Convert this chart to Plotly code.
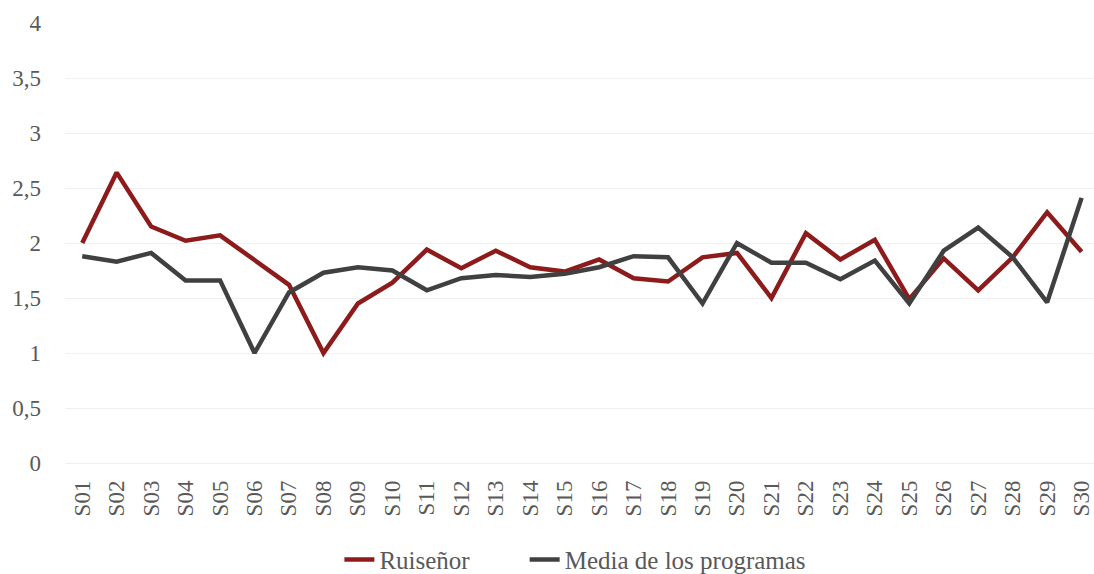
import plotly.graph_objects as go

sesiones = [f"S{i:02d}" for i in range(1, 31)]

ruisenor = [2.00, 2.64, 2.15, 2.02, 2.07, 1.85, 1.62, 1.00, 1.45, 1.64,
            1.94, 1.77, 1.93, 1.78, 1.74, 1.85, 1.68, 1.65, 1.87, 1.91,
            1.50, 2.09, 1.85, 2.03, 1.49, 1.86, 1.57, 1.87, 2.28, 1.92]

media = [1.88, 1.83, 1.91, 1.66, 1.66, 1.00, 1.55, 1.73, 1.78, 1.75,
         1.57, 1.68, 1.71, 1.69, 1.72, 1.78, 1.88, 1.87, 1.45, 2.00,
         1.82, 1.82, 1.67, 1.84, 1.45, 1.93, 2.14, 1.87, 1.46, 2.41]

y_ticks = [0, 0.5, 1, 1.5, 2, 2.5, 3, 3.5, 4]
y_labels = ["0", "0,5", "1", "1,5", "2", "2,5", "3", "3,5", "4"]

ROJO = "#8E1B1B"
GRIS = "#404040"

fig = go.Figure()
# nbsp al final del nombre para separar las entradas de la leyenda
fig.add_trace(go.Scatter(x=sesiones, y=ruisenor, mode="lines", name="Ruiseñor" + "\u00a0" * 8,
                         line=dict(color=ROJO, width=4.5)))
fig.add_trace(go.Scatter(x=sesiones, y=media, mode="lines", name="Media de los programas",
                         line=dict(color=GRIS, width=4.5)))

fig.update_layout(
    width=1094, height=574,
    plot_bgcolor="#FFFFFF", paper_bgcolor="#FFFFFF",
    font=dict(family="Liberation Serif", size=22, color="#595959"),
    margin=dict(l=65, r=0, t=23, b=111, autoexpand=False),
    showlegend=True,
    legend=dict(orientation="h", x=0.496, xanchor="center", y=-0.22, yanchor="middle",
                font=dict(size=25, color="#595959")),
)
fig.update_xaxes(
    type="category", range=[-0.5, 29.36], tickangle=-90, automargin=False,
    showgrid=False, showline=False, ticks="", ticklabelstandoff=12,
    tickfont=dict(size=23),
)
fig.update_yaxes(
    range=[0, 4], tickvals=y_ticks, ticktext=y_labels, automargin=False,
    showgrid=True, gridcolor="#F0F0F0", gridwidth=1,
    zeroline=True, zerolinecolor="#F0F0F0", zerolinewidth=1,
    showline=False, ticks="", ticklabelstandoff=23,
    tickfont=dict(size=23),
)

# quitar el margen por defecto del <body> para que la figura ocupe la ventana
fig.write_html("out.html", config={"displayModeBar": False},
               post_script="document.body.style.margin='0';")
